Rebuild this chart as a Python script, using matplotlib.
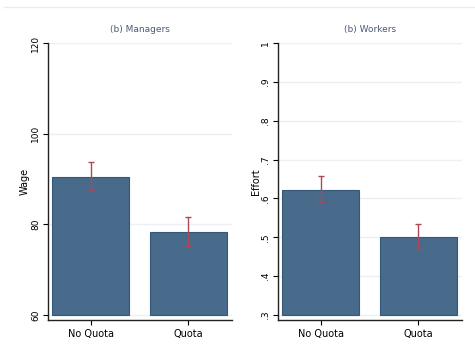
import matplotlib.pyplot as plt
import numpy as np

groups = ['No Quota', 'Quota']

wage_mean = [90.5, 78.3]
wage_lo = [87.5, 75.2]
wage_hi = [93.8, 81.6]

effort_mean = [0.623, 0.501]
effort_lo = [0.591, 0.470]
effort_hi = [0.657, 0.533]

wage_ticks = [60, 80, 100, 120]
wage_ticklabels = ['60', '80', '100', '120']
effort_ticks = [0.3, 0.4, 0.5, 0.6, 0.7, 0.8, 0.9, 1.0]
effort_ticklabels = ['.3', '.4', '.5', '.6', '.7', '.8', '.9', '1']

bar_col = '#486a8b'
edge_col = '#34587a'
err_col = '#ad4858'
grid_col = '#eaf0f3'
title_col = '#4d5b78'

fig = plt.figure(figsize=(4.75, 3.51), dpi=100)
fig.patch.set_facecolor('white')

# thin rule across the top
fig.add_artist(plt.Line2D([4 / 475, 1.0], [1 - 7 / 351, 1 - 7 / 351],
                          color='#ebebeb', lw=1.0))


def panel(rect, means, lo, hi, base, ylim, xlim, width, ticks, ticklabels,
          ylabel, title, ylab_x):
    ax = fig.add_axes(rect)
    x = np.arange(1, len(means) + 1)
    heights = np.array(means) - base
    ax.bar(x, heights, width=width, bottom=base, color=bar_col,
           edgecolor=edge_col, linewidth=0.8, zorder=3)
    yerr = [np.array(means) - np.array(lo), np.array(hi) - np.array(means)]
    ax.errorbar(x, means, yerr=yerr, fmt='none', ecolor=err_col,
                elinewidth=1.0, capsize=2, capthick=1.0, zorder=4)
    ax.set_ylim(*ylim)
    ax.set_xlim(*xlim)
    ax.set_yticks(ticks)
    ax.set_yticklabels(ticklabels, rotation=90, va='center', fontsize=6.5)
    ax.set_xticks(x)
    ax.set_xticklabels(groups, fontsize=7)
    ax.tick_params(axis='both', direction='out', length=3.5, width=0.8,
                   color='black', pad=2)
    ax.tick_params(axis='x', pad=3)
    for t in ticks:
        ax.axhline(t, color=grid_col, lw=1.0, zorder=1)
    for s in ['top', 'right']:
        ax.spines[s].set_visible(False)
    for s in ['left', 'bottom']:
        ax.spines[s].set_color('#222222')
        ax.spines[s].set_linewidth(1.0)
    ax.set_ylabel(ylabel, fontsize=7)
    ax.yaxis.set_label_coords(ylab_x, 0.5)
    ax.set_title(title, fontsize=6.5, color=title_col, pad=8)
    return ax


panel([48 / 475, 31 / 351, 184 / 475, 277 / 351],
      wage_mean, wage_lo, wage_hi, 60, (58.9, 120), (0.566, 2.444), 0.786,
      wage_ticks, wage_ticklabels, 'Wage', '(b) Managers', -0.1)

panel([277.7 / 475, 31 / 351, 184.3 / 475, 277 / 351],
      effort_mean, effort_lo, effort_hi, 0.3, (0.2872, 1.0), (0.561, 2.451),
      0.79, effort_ticks, effort_ticklabels, 'Effort', '(b) Workers', -0.09)

fig.savefig('out.png', dpi=100, facecolor='white')
